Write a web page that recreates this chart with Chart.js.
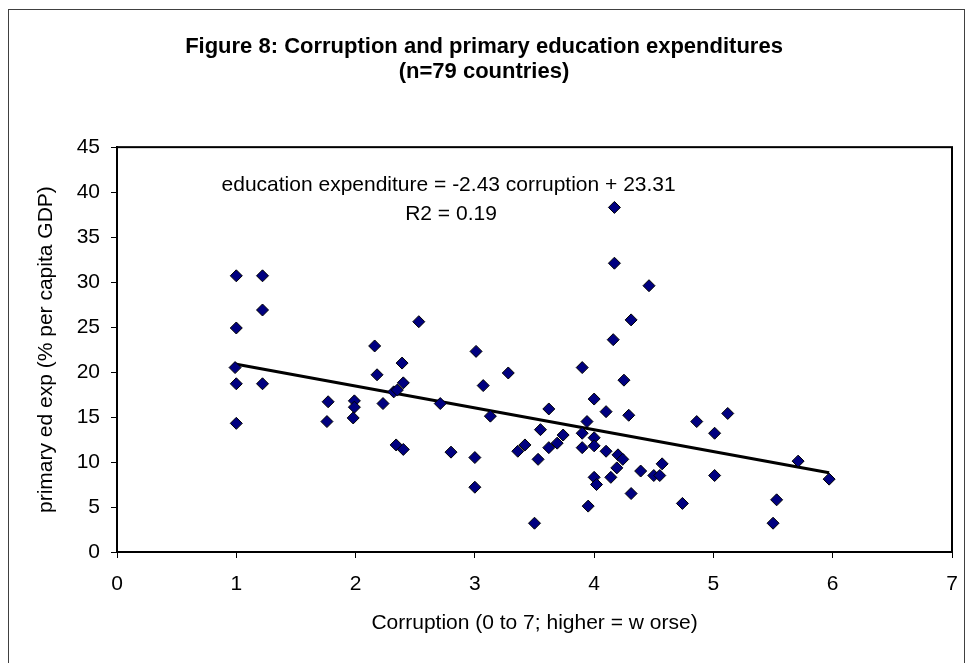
<!DOCTYPE html>
<html>
<head>
<meta charset="utf-8">
<title>Figure 8</title>
<script src="https://cdn.jsdelivr.net/npm/chart.js@4.4.1/dist/chart.umd.min.js"></script>
<style>
  body { margin: 0; background: #fff; }
  #wrap { width: 968px; height: 663px; }
</style>
</head>
<body>
<div id="wrap"><canvas id="corruptionChart" width="968" height="663"></canvas></div>
<script>
// corruption index (0 to 7) per country
var corruption = [1.00, 1.22, 1.22, 1.00, 0.99, 1.00, 1.22, 1.00, 1.77, 1.76,
  1.99, 1.99, 1.98, 2.16, 2.18, 2.23, 2.32, 2.35, 2.39, 2.40,
  2.34, 2.40, 2.53, 2.71, 2.80, 3.00, 3.00, 3.01, 3.07, 3.13,
  3.28, 3.36, 3.42, 3.50, 3.53, 3.55, 3.62, 3.62, 3.69, 3.74,
  3.90, 3.90, 3.90, 3.94, 3.95, 4.00, 4.00, 4.00, 4.00, 4.02,
  4.10, 4.10, 4.14, 4.16, 4.17, 4.17, 4.19, 4.20, 4.24, 4.25,
  4.29, 4.31, 4.31, 4.39, 4.46, 4.50, 4.55, 4.57, 4.74, 4.86,
  5.01, 5.01, 5.12, 5.50, 5.53, 5.71, 5.97];

// primary education expenditure (% per capita GDP)
var edExpenditure = [30.7, 30.7, 26.9, 24.9, 20.5, 18.7, 18.7, 14.3, 16.7, 14.5,
  16.8, 16.1, 14.9, 22.9, 19.7, 16.5, 17.8, 18.0, 21.0, 18.8,
  11.9, 11.4, 25.6, 16.5, 11.1, 10.5, 7.2, 22.3, 18.5, 15.1,
  19.9, 11.2, 11.9, 3.2, 10.3, 13.6, 15.9, 11.6, 12.1, 13.0,
  20.5, 13.2, 11.6, 14.5, 5.1, 17.0, 12.7, 11.8, 8.3, 7.5,
  15.6, 11.2, 8.3, 23.6, 38.3, 32.1, 9.35, 10.8, 10.3, 19.1,
  15.2, 25.8, 6.5, 9.0, 29.6, 8.5, 8.5, 9.8, 5.4, 14.5,
  13.2, 8.5, 15.4, 3.2, 5.8, 10.1, 8.1];

// fitted line as printed on the chart
var slope = -2.43;
var intercept = 23.31;
var rSquared = 0.19;

var xTicks = [0, 1, 2, 3, 4, 5, 6, 7];
var yTicks = [0, 5, 10, 15, 20, 25, 30, 35, 40, 45];

var points = corruption.map(function(c, i) { return { x: c, y: edExpenditure[i] }; });
var xMin = Math.min.apply(null, corruption);
var xMax = Math.max.apply(null, corruption);
var trend = [
  { x: xMin, y: slope * xMin + intercept },
  { x: xMax, y: slope * xMax + intercept }
];

var fontFamily = '"Liberation Sans", Arial, sans-serif';

// outer chart frame + plot area box + equation text
var extras = {
  id: 'extras',
  beforeDraw: function(chart) {
    var ctx = chart.ctx;
    ctx.save();
    ctx.strokeStyle = '#404040';
    ctx.lineWidth = 1;
    ctx.strokeRect(8.5, 9.5, 956, 720);
    ctx.restore();
  },
  afterDraw: function(chart) {
    var ctx = chart.ctx, a = chart.chartArea;
    var xs = chart.scales.x, ys = chart.scales.y;
    ctx.save();
    ctx.strokeStyle = '#000';
    ctx.lineWidth = 2;
    ctx.strokeRect(a.left, a.top, a.right - a.left, a.bottom - a.top);
    ctx.fillStyle = '#000';
    ctx.font = '21px ' + fontFamily;
    ctx.textAlign = 'center';
    ctx.textBaseline = 'middle';
    ctx.fillText('education expenditure = ' + slope.toFixed(2) + ' corruption + ' + intercept.toFixed(2),
      xs.getPixelForValue(2.78), ys.getPixelForValue(40.8));
    ctx.fillText('R2 = ' + rSquared.toFixed(2), xs.getPixelForValue(2.80), ys.getPixelForValue(37.6));
    ctx.restore();
  }
};

var ctx = document.getElementById('corruptionChart');

var myChart = new Chart(ctx, {
  type: 'scatter',
  data: {
    datasets: [
      {
        label: 'countries',
        data: points,
        pointStyle: 'rectRot',
        pointRadius: 6,
        backgroundColor: '#000080',
        borderColor: '#000000',
        borderWidth: 1
      },
      {
        label: 'trend',
        type: 'line',
        data: trend,
        borderColor: '#000000',
        borderWidth: 3,
        pointRadius: 0,
        fill: false
      }
    ]
  },
  options: {
    responsive: false,
    animation: false,
    layout: { padding: 0 },
    plugins: {
      legend: { display: false },
      tooltip: { enabled: false },
      title: {
        display: true,
        text: ['Figure 8: Corruption and primary education expenditures', '(n=79 countries)'],
        color: '#000',
        font: { family: fontFamily, size: 22, weight: 'bold', lineHeight: 1.14 },
        padding: { top: 34, bottom: 63 }
      }
    },
    scales: {
      x: {
        type: 'linear',
        min: 0,
        max: 7,
        afterBuildTicks: function(scale) { scale.ticks = xTicks.map(function(v) { return { value: v }; }); },
        afterFit: function(scale) {
          scale.height = 111;
          scale.paddingLeft = 0;
          scale.paddingRight = 16;
        },
        grid: { display: true, drawOnChartArea: false, drawTicks: true, tickLength: 6, color: '#000' },
        border: { display: true, color: '#000', width: 2 },
        ticks: { color: '#000', font: { family: fontFamily, size: 21 }, padding: 14, maxRotation: 0 },
        title: {
          display: true,
          text: 'Corruption (0 to 7; higher = w orse)',
          color: '#000',
          font: { family: fontFamily, size: 21 },
          padding: { top: 0, bottom: 27 }
        }
      },
      y: {
        type: 'linear',
        min: 0,
        max: 45,
        afterBuildTicks: function(scale) { scale.ticks = yTicks.map(function(v) { return { value: v }; }); },
        afterFit: function(scale) { scale.width = 117; },
        grid: { display: true, drawOnChartArea: false, drawTicks: true, tickLength: 6, color: '#000' },
        border: { display: true, color: '#000', width: 2 },
        ticks: { color: '#000', font: { family: fontFamily, size: 21 }, padding: 11 },
        title: {
          display: true,
          text: 'primary ed exp (% per capita GDP)',
          color: '#000',
          font: { family: fontFamily, size: 21 },
          padding: { top: 34, bottom: 0 }
        }
      }
    }
  },
  plugins: [extras]
});
</script>
</body>
</html>
